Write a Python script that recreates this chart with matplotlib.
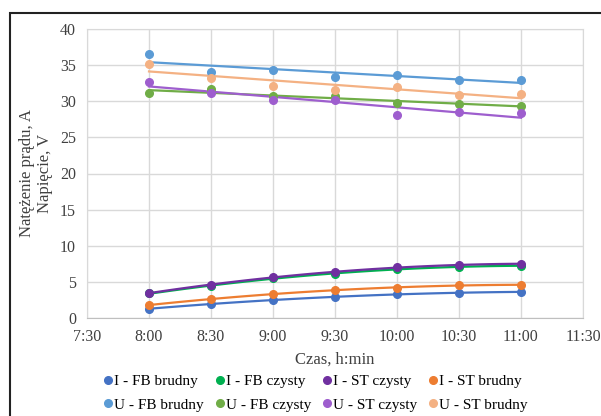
import numpy as np
from matplotlib import pyplot as plt
from matplotlib.patches import Rectangle

times = [480, 510, 540, 570, 600, 630, 660]  # minutes from midnight, 8:00 .. 11:00
tick_minutes = [450, 480, 510, 540, 570, 600, 630, 660, 690]
tick_labels = ['7:30', '8:00', '8:30', '9:00', '9:30', '10:00', '10:30', '11:00', '11:30']

i_fb_brudny = [1.3, 1.9, 2.5, 2.9, 3.3, 3.5, 3.6]
i_fb_czysty = [3.4, 4.4, 5.5, 6.1, 6.8, 7.1, 7.2]
i_st_czysty = [3.5, 4.5, 5.7, 6.3, 7.1, 7.3, 7.5]
i_st_brudny = [1.8, 2.6, 3.3, 3.9, 4.2, 4.5, 4.6]

u_fb_brudny = [36.5, 34.0, 34.3, 33.4, 33.7, 33.0, 32.9]
u_fb_czysty = [31.1, 31.7, 30.7, 30.7, 29.8, 29.6, 29.3]
u_st_czysty = [32.7, 31.1, 30.2, 30.2, 28.1, 28.5, 28.4]
u_st_brudny = [35.2, 33.2, 32.1, 31.5, 32.0, 30.9, 31.0]

plt.rcParams['font.family'] = ['Liberation Serif', 'DejaVu Serif']

fig = plt.figure(figsize=(6.01, 4.16), dpi=100)
ax = fig.add_axes([87 / 601, 1 - 318 / 416, (583 - 87) / 601, (318 - 29) / 416])

series = [
    ('I - FB brudny', i_fb_brudny, '#4472C4', 2),
    ('I - FB czysty', i_fb_czysty, '#00B050', 2),
    ('I - ST czysty', i_st_czysty, '#7030A0', 2),
    ('I - ST brudny', i_st_brudny, '#ED7D31', 2),
    ('U - FB brudny', u_fb_brudny, '#5B9BD5', 1),
    ('U - FB czysty', u_fb_czysty, '#70AD47', 1),
    ('U - ST czysty', u_st_czysty, '#9E5ECE', 1),
    ('U - ST brudny', u_st_brudny, '#F4B183', 1),
]

x = np.array(times, dtype=float)
xs = np.linspace(x[0], x[-1], 100)
handles = []
for label, values, color, degree in series:
    # trend line computed from the points, like Excel does
    coef = np.polyfit(x, values, degree)
    ax.plot(xs, np.polyval(coef, xs), color=color, linewidth=1.6, zorder=2)
    h, = ax.plot(x, values, 'o', color=color, markersize=5.5, label=label, zorder=3)
    handles.append(h)

ax.set_xlim(450, 690)
ax.set_ylim(0, 40)
ax.set_xticks(tick_minutes)
ax.set_xticklabels(tick_labels)
ax.set_yticks(range(0, 45, 5))
ax.grid(True, color='#D9D9D9', linewidth=1)
ax.set_axisbelow(True)
for side in ['top', 'right', 'left']:
    ax.spines[side].set_color('#D9D9D9')
ax.spines['bottom'].set_color('#BFBFBF')
ax.tick_params(length=0, labelsize=11.5, colors='#404040', pad=8)

ax.set_xlabel('Czas, h:min', fontsize=12, color='#404040', labelpad=5)
ax.set_ylabel('Natężenie prądu, A\nNapięcie, V', fontsize=12, color='#404040', labelpad=5,
              linespacing=1.15)

# legend is filled row by row
order = [0, 4, 1, 5, 2, 6, 3, 7]
fig.legend([handles[i] for i in order], [series[i][0] for i in order],
           loc='center', bbox_to_anchor=(314 / 601, 1 - 393 / 416), ncol=4, frameon=False,
           fontsize=11, handletextpad=-0.1, columnspacing=0.55, markerscale=1.0,
           labelspacing=0.65, handlelength=1.0)

fig.patches.append(Rectangle((10 / 601, -0.1), 1.2, 1 - 13 / 416 + 0.1, transform=fig.transFigure,
                             fill=False, edgecolor='#222222', linewidth=1.5))

plt.savefig('out.png')
